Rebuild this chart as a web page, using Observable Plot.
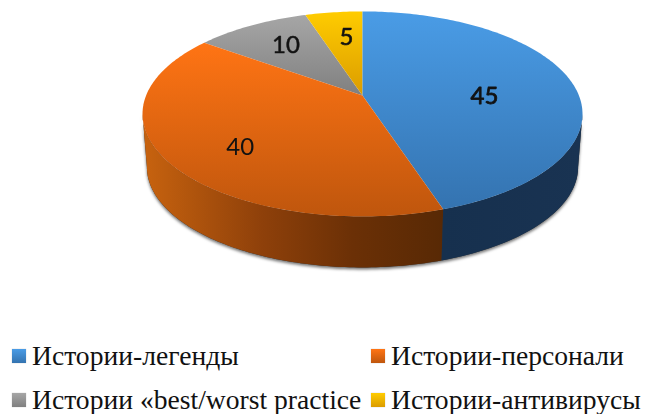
<!DOCTYPE html>
<html lang="ru">
<head>
<meta charset="utf-8">
<script src="https://cdn.jsdelivr.net/npm/d3@7"></script>
<script src="https://cdn.jsdelivr.net/npm/@observablehq/plot@0.6"></script>
<style>
html,body{margin:0;padding:0;background:#fff;overflow:hidden;width:646px;height:414px}
#chart svg{display:block}
#legend{position:relative;height:79px;width:646px;font-family:"Liberation Serif",serif;font-size:27.6px;color:#111;overflow:hidden;white-space:nowrap}
.it{position:absolute;display:flex;align-items:center;height:30px}
.sw{width:14px;height:14px;margin-right:6px;flex:none;box-shadow:0 0 1px rgba(0,0,0,.25)}
</style>
</head>
<body>
<div id="chart"></div>
<div id="legend"></div>
<script>
const categories = ["Истории-легенды", "Истории-персонали", "Истории «best/worst practice", "Истории-антивирусы"];
const values = [45, 40, 10, 5];

// Appearance (not data)
const topStops = [["#4a9ce6", "#3473b0"], ["#ff7414", "#bf560d"], ["#a6a6a6", "#808080"], ["#ffcc00", "#db9c00"]];
const labelStyle = [
  {dx: -16.5, dy: 11, strokeWidth: 0.8},
  {dx: 2, dy: 10, strokeWidth: 0},
  {dx: 0, dy: -2, strokeWidth: 0.5},
  {dx: 4, dy: 0, strokeWidth: 0.6}
];
const legendPos = [[12, 0], [371, 0], [12, 44], [371, 44]];
const tilt = -0.18, depth = 0.538, bottomScale = 0.98, labelRadius = 0.66;

const total = d3.sum(values);
const cum = d3.cumsum(values);
const ends = Array.from(cum, (c) => (c / total) * 2 * Math.PI);
const starts = ends.map((_, i) => (i ? ends[i - 1] : 0));
// silhouette of the tilted disc: only this arc of the rim faces the viewer
const rimA = Math.acos(tilt), rimB = 2 * Math.PI - rimA;

function project(theta, r = 1, s = 1, off = 0) {
  const u = r * Math.sin(theta), v = -r * Math.cos(theta), den = 1 + tilt * v;
  return {x: (s * u) / den, y: (s * v) / den + off};
}
function arc(a, b) {
  const n = Math.ceil(((b - a) * 180) / Math.PI);
  return d3.range(n + 1).map((i) => a + ((b - a) * i) / n);
}
const face = (i) => [project(0, 0), ...arc(starts[i], ends[i]).map((t) => project(t))];
const strip = (a0, b0) => {
  const a = arc(a0, b0);
  return [...a.map((t) => project(t)), ...a.slice().reverse().map((t) => project(t, 1, bottomScale, depth))];
};
const side = (i) => strip(Math.max(starts[i], rimA), Math.min(ends[i], rimB));

const defs = d3.create("svg:defs");
function grad(id, stops, horizontal) {
  const g = defs.append("linearGradient").attr("id", id).attr("x1", 0).attr("y1", 0)
    .attr("x2", horizontal ? 1 : 0).attr("y2", horizontal ? 0 : 1);
  stops.forEach(([o, c]) => g.append("stop").attr("offset", o).attr("stop-color", c));
}
topStops.forEach((s, i) => grad("top" + i, [[0, s[0]], [1, s[1]]], false));
grad("side1", [[0, "#c8630f"], [0.4, "#8e400a"], [0.7, "#6b3006"], [1, "#582905"]], true);
grad("side0", [[0, "#16304e"], [1, "#193352"]], true);

const marks = [
  () => defs.node(),
  Plot.line(strip(rimA, rimB), {x: "x", y: "y", fill: "#333", stroke: "none", curve: "linear",
    imageFilter: "drop-shadow(0.5px 2px 1.5px rgba(0,0,0,.55))"}),
  Plot.line(side(1), {x: "x", y: "y", fill: "url(#side1)", stroke: "none", curve: "linear"}),
  Plot.line(side(0), {x: "x", y: "y", fill: "url(#side0)", stroke: "none", curve: "linear"})
];
[2, 3, 0, 1].forEach((i) => {
  marks.push(Plot.line(face(i), {x: "x", y: "y", fill: `url(#top${i})`, stroke: "none", curve: "linear"}));
});
values.forEach((v, i) => {
  const p = project((starts[i] + ends[i]) / 2, labelRadius);
  marks.push(Plot.text([v], {
    x: () => p.x, y: () => p.y, text: (d) => String(d),
    fontSize: 24, fontFamily: "Lato, 'Open Sans', sans-serif", fill: "#111", stroke: "#111",
    ...labelStyle[i]
  }));
});

const plot = Plot.plot({
  width: 646, height: 335,
  marginTop: 0, marginRight: 0, marginBottom: 0, marginLeft: 0,
  x: {domain: [-1, 1], range: [145.6, 578.4], axis: null},
  y: {domain: [-1, 1], range: [-4.2, 194.2], axis: null},
  style: {background: "transparent", overflow: "visible", filter: "blur(0.35px)"},
  marks
});
document.getElementById("chart").append(plot);

const legend = d3.select("#legend");
categories.forEach((c, i) => {
  const it = legend.append("div").attr("class", "it")
    .style("left", legendPos[i][0] + "px").style("top", 6 + legendPos[i][1] + "px");
  it.append("span").attr("class", "sw")
    .style("background", `linear-gradient(${topStops[i][0]},${topStops[i][1]})`);
  it.append("span").text(c);
});
</script>
</body>
</html>
